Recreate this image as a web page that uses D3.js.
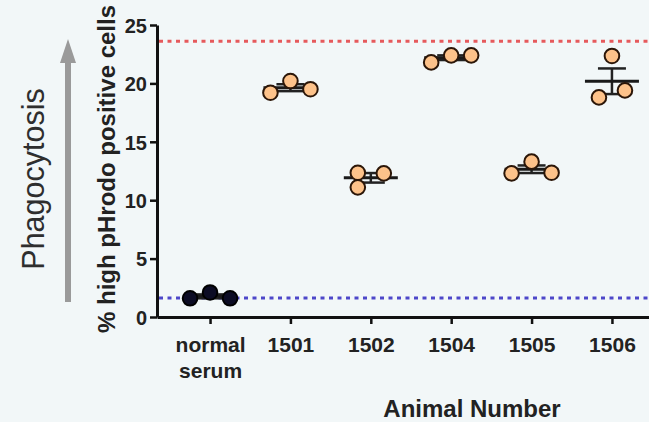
<!DOCTYPE html>
<html>
<head>
<meta charset="utf-8">
<script src="https://cdn.jsdelivr.net/npm/d3@7"></script>
<style>
  html, body { margin: 0; padding: 0; background: #f2f7f8; }
  svg { display: block; font-family: "Liberation Sans", Arial, Helvetica, sans-serif; }
</style>
</head>
<body>
<div id="chart"></div>
<script>
/** Chart data */
const groups = ["normal serum", "1501", "1502", "1504", "1505", "1506"];
const values = [
  [1.6, 2.1, 1.6],
  [19.2, 20.2, 19.5],
  [12.35, 11.1, 12.3],
  [21.8, 22.4, 22.4],
  [12.3, 13.3, 12.35],
  [22.35, 18.8, 19.4],
];
// horizontal dodge slot of each point inside its group (as drawn by the scatter)
const dodge = [
  [-1, 0, 1],
  [-1, 0, 1],
  [-0.65, -0.65, 0.65],
  [-1, 0, 1],
  [-1, 0, 1],
  [0, -0.65, 0.65],
];
const yTicks = [0, 5, 10, 15, 20, 25];
const upperRef = 23.6;
const lowerRef = 1.63;

/** Graph configs */
const width = 649;
const height = 422;

const svg = d3
  .select("#chart")
  .append("svg")
  .attr("width", width)
  .attr("height", height);

const x = d3.scalePoint().domain(groups).range([157, 665]).padding(0.66);
const y = d3.scaleLinear().domain([0, 25]).range([317, 25]);
const dx = d3.scaleLinear().domain([-1, 1]).range([-20, 20]);

/** Reference dashed lines */
const refs = [
  { v: upperRef, color: "#e65a5c" },
  { v: lowerRef, color: "#4d47c9" },
];
svg
  .selectAll("line.ref")
  .data(refs)
  .enter()
  .append("line")
  .attr("class", "ref")
  .attr("x1", 159)
  .attr("x2", width)
  .attr("y1", (d) => y(d.v))
  .attr("y2", (d) => y(d.v))
  .style("stroke", (d) => d.color)
  .style("stroke-width", 3)
  .style("stroke-dasharray", "4 4.5");

/** Axes */
const yAxis = svg
  .append("g")
  .attr("transform", "translate(157,0)")
  .call(d3.axisLeft(y).tickValues(yTicks).tickSize(7).tickSizeOuter(0).tickPadding(3));
const xAxis = svg
  .append("g")
  .attr("transform", "translate(0,317)")
  .call(d3.axisBottom(x).tickSize(7).tickSizeOuter(0).tickPadding(13));

[yAxis, xAxis].forEach((g) => {
  g.select(".domain").style("stroke", "#111").style("stroke-width", 3);
  g.selectAll(".tick line").style("stroke", "#111").style("stroke-width", 2.5);
  g.selectAll(".tick text")
    .style("font-size", "20px")
    .style("font-weight", "bold")
    .style("fill", "#222");
});
yAxis.selectAll(".tick text").attr("dy", "0.36em");
xAxis.selectAll(".tick text").style("font-size", "21px");

// split "normal serum" onto two lines
xAxis.selectAll(".tick text").each(function (d) {
  const words = d.split(" ");
  if (words.length < 2) return;
  const t = d3.select(this).text(null);
  words.forEach((w, i) => {
    t.append("tspan").attr("x", 0).attr("dy", i === 0 ? "0.71em" : "1.25em").text(w);
  });
});

/** Mean and SEM bars */
const stats = values.map((vals, i) => {
  const m = d3.mean(vals);
  const sem = d3.deviation(vals) / Math.sqrt(vals.length);
  return { g: groups[i], m, sem };
});
const bars = svg.selectAll("g.bar").data(stats).enter().append("g").attr("class", "bar");
bars
  .append("line")
  .attr("x1", (d) => x(d.g))
  .attr("x2", (d) => x(d.g))
  .attr("y1", (d) => y(d.m - d.sem))
  .attr("y2", (d) => y(d.m + d.sem))
  .style("stroke", "#222")
  .style("stroke-width", 2.5);
[-1, 1].forEach((s) => {
  bars
    .append("line")
    .attr("x1", (d) => x(d.g) - 14)
    .attr("x2", (d) => x(d.g) + 14)
    .attr("y1", (d) => y(d.m + s * d.sem))
    .attr("y2", (d) => y(d.m + s * d.sem))
    .style("stroke", "#222")
    .style("stroke-width", 2.5);
});
bars
  .append("line")
  .attr("x1", (d) => x(d.g) - 27)
  .attr("x2", (d) => x(d.g) + 27)
  .attr("y1", (d) => y(d.m))
  .attr("y2", (d) => y(d.m))
  .style("stroke", "#1a1a1a")
  .style("stroke-width", 3);

/** Points */
const points = values.flatMap((vals, i) =>
  vals.map((v, j) => ({ g: groups[i], gi: i, v, slot: dodge[i][j] }))
);
svg
  .selectAll("circle.pt")
  .data(points)
  .enter()
  .append("circle")
  .attr("class", "pt")
  .attr("cx", (d) => x(d.g) + dx(d.slot))
  .attr("cy", (d) => y(d.v))
  .attr("r", 7.3)
  .style("fill", (d) => (d.gi === 0 ? "#0c0c24" : "#fdc28a"))
  .style("stroke", (d) => (d.gi === 0 ? "#000" : "#2b1608"))
  .style("stroke-width", 2);

/** Axis titles */
svg
  .append("text")
  .attr("transform", "translate(115,169) rotate(-90)")
  .attr("text-anchor", "middle")
  .style("font-size", "24px")
  .style("font-weight", "bold")
  .style("fill", "#222")
  .text("% high pHrodo positive cells");

svg
  .append("text")
  .attr("x", 472)
  .attr("y", 417)
  .attr("text-anchor", "middle")
  .style("font-size", "24px")
  .style("font-weight", "bold")
  .style("fill", "#222")
  .text("Animal Number");

/** Phagocytosis arrow */
svg
  .append("text")
  .attr("transform", "translate(44,179) rotate(-90)")
  .attr("text-anchor", "middle")
  .style("font-size", "30.5px")
  .style("fill", "#2e2e2e")
  .text("Phagocytosis");

svg
  .append("line")
  .attr("x1", 68)
  .attr("x2", 68)
  .attr("y1", 302)
  .attr("y2", 56)
  .style("stroke", "#9a9a9a")
  .style("stroke-width", 6);
svg
  .append("path")
  .attr("d", d3.line()([[60, 63], [68, 39], [76, 63]]) + "Z")
  .style("fill", "#9a9a9a");
</script>
</body>
</html>
